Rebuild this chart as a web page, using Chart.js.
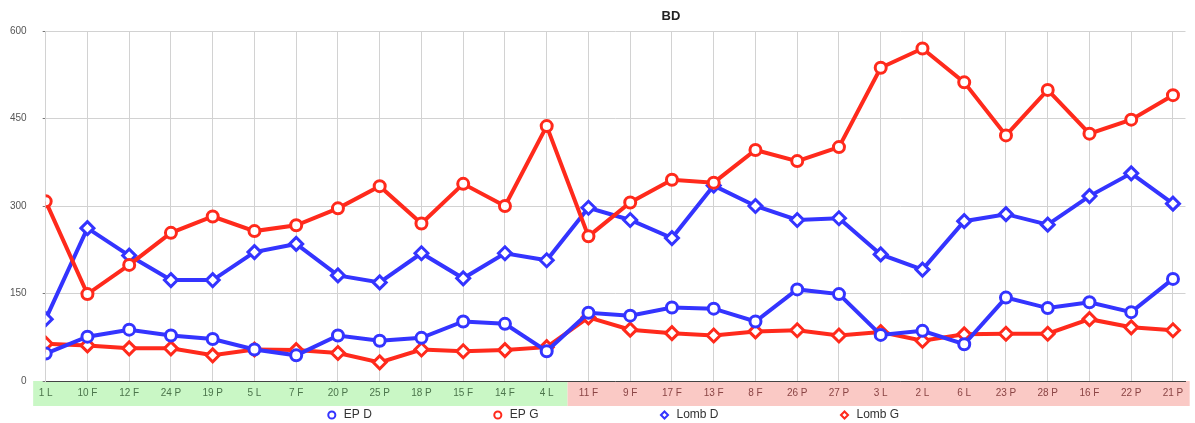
<!DOCTYPE html>
<html>
<head>
<meta charset="utf-8">
<title>BD</title>
<script src="https://cdn.jsdelivr.net/npm/chart.js@4/dist/chart.umd.min.js"></script>
<style>
  html, body { margin: 0; padding: 0; background: #fff; }
</style>
</head>
<body>
<canvas id="bdChart" width="1195" height="423"></canvas>
<script>
// Chart data
var chartTitle = 'BD';
var categories = ['1 L', '10 F', '12 F', '24 P', '19 P', '5 L', '7 F', '20 P', '25 P', '18 P', '15 F', '14 F', '4 L',
  '11 F', '9 F', '17 F', '13 F', '8 F', '26 P', '27 P', '3 L', '2 L', '6 L', '23 P', '28 P', '16 F', '22 P', '21 P'];
var epD = [47, 76, 88, 78, 72, 54, 44, 78, 69, 74, 102, 98, 51,
  117, 112, 126, 124, 102, 157, 149, 79, 86, 63, 143, 125, 135, 118, 175];
var epG = [308, 149, 199, 254, 282, 257, 267, 296, 334, 270, 338, 300, 437,
  248, 306, 345, 340, 396, 377, 401, 537, 570, 512, 421, 499, 424, 448, 490];
var lombD = [106, 262, 215, 173, 173, 221, 235, 181, 169, 219, 176, 219, 207,
  297, 276, 245, 335, 300, 276, 279, 217, 191, 274, 286, 268, 317, 356, 304];
var lombG = [64, 61, 56, 56, 44, 54, 53, 48, 32, 54, 51, 53, 58,
  109, 88, 82, 78, 85, 87, 78, 84, 69, 80, 81, 81, 106, 92, 87];
var lastGreen = 12; // categories 0..12 sit on the green band, the rest on the pink one

var blue = '#3434ff';
var red = '#ff2a1c';

function points(values) {
  return values.map(function (v, i) { return { x: i, y: v }; });
}

function series(label, values, color, style) {
  return {
    label: label,
    data: points(values),
    borderColor: color,
    backgroundColor: '#fff',
    borderWidth: 4,
    pointStyle: style,
    pointRadius: style === 'circle' ? 5.5 : 6.5,
    pointBorderWidth: 3,
    pointBackgroundColor: '#fff',
    pointBorderColor: color,
    tension: 0
  };
}

// coloured strip behind the category labels + title
var bandPlugin = {
  id: 'bands',
  beforeDraw: function (chart) {
    var x = chart.scales.x, ctx = chart.ctx, top = chart.chartArea.bottom;
    var start = x.getPixelForValue(-0.3);
    var mid = x.getPixelForValue(lastGreen + 0.5);
    var end = x.getPixelForValue(categories.length - 0.6);
    ctx.save();
    ctx.fillStyle = '#c9f7c5';
    ctx.fillRect(start, top, mid - start, 25);
    ctx.fillStyle = '#fac9c5';
    ctx.fillRect(mid, top, end - mid, 25);
    ctx.restore();
  },
  afterDraw: function (chart) {
    var ctx = chart.ctx;
    ctx.save();
    ctx.font = 'bold 13px "Liberation Sans", Arial, sans-serif';
    ctx.fillStyle = '#222';
    ctx.textAlign = 'center';
    ctx.textBaseline = 'middle';
    ctx.fillText(chartTitle, 671, 16);
    ctx.restore();
  }
};

// wide gaps between legend items, but keep the legend short
var legendPlugin = {
  id: 'legendSpread',
  beforeInit: function (chart) {
    var legend = chart.legend;
    var draw = legend.draw;
    legend.draw = function () {
      var top = this.top, left = this.left, right = this.right;
      this.top = top + 4 - this.options.labels.padding;
      this.left = left + 18;
      this.right = right + 18;
      draw.call(this);
      this.top = top; this.left = left; this.right = right;
    };
  }
};

Chart.defaults.font.family = '"Liberation Sans", Arial, sans-serif';

var ctx = document.getElementById('bdChart').getContext('2d');
var myChart = new Chart(ctx, {
  type: 'line',
  data: {
    datasets: [
      series('EP D', epD, blue, 'circle'),
      series('EP G', epG, red, 'circle'),
      series('Lomb D', lombD, blue, 'rectRot'),
      series('Lomb G', lombG, red, 'rectRot')
    ]
  },
  options: {
    responsive: false,
    animation: false,
    layout: { padding: { top: 31, left: -6, right: 0, bottom: 0 } },
    scales: {
      x: {
        type: 'linear',
        min: 0,
        max: 27.3,
        grid: { color: '#d2d2d2', drawTicks: false },
        border: { color: '#444' },
        ticks: {
          stepSize: 1,
          includeBounds: false,
          autoSkip: false,
          maxRotation: 0,
          padding: 6,
          font: { size: 10 },
          color: function (c) { return c.tick.value <= lastGreen ? '#4b744b' : '#8a4444'; },
          callback: function (v) { return categories[v] !== undefined ? categories[v] : ''; }
        }
      },
      y: {
        min: 0,
        max: 600,
        grid: { color: '#d2d2d2', tickColor: '#777', tickLength: 3 },
        border: { color: '#d2d2d2' },
        ticks: { stepSize: 150, padding: 16, font: { size: 10 }, color: '#555' }
      }
    },
    plugins: {
      title: { display: false },
      tooltip: { enabled: false },
      legend: {
        position: 'bottom',
        maxHeight: 18,
        labels: {
          usePointStyle: true,
          boxWidth: 12,
          boxHeight: 5,
          padding: 120,
          color: '#333',
          font: { size: 12 },
          generateLabels: function (chart) {
            var items = Chart.defaults.plugins.legend.labels.generateLabels(chart);
            items.forEach(function (item) { item.lineWidth = 2; });
            return items;
          }
        }
      }
    }
  },
  plugins: [bandPlugin, legendPlugin]
});
</script>
</body>
</html>
